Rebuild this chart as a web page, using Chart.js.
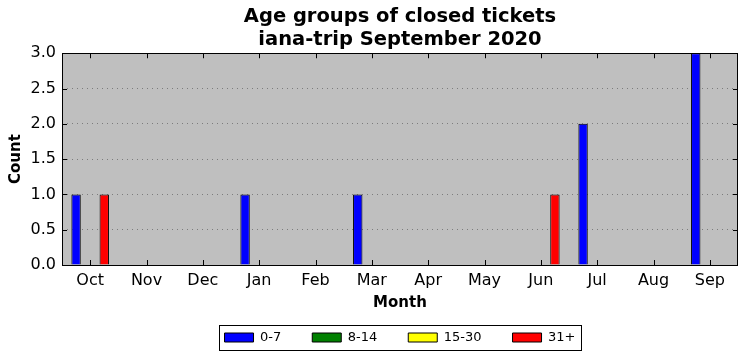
<!DOCTYPE html>
<html>
<head>
<meta charset="utf-8">
<script src="https://cdn.jsdelivr.net/npm/chart.js@4"></script>
<style>
  html, body { margin: 0; padding: 0; background: #fff; }
</style>
</head>
<body>
<canvas id="ageChart" width="747" height="361"></canvas>
<script>
const months = ["Oct", "Nov", "Dec", "Jan", "Feb", "Mar", "Apr", "May", "Jun", "Jul", "Aug", "Sep"];
const age0to7 = [1, 0, 0, 1, 0, 1, 0, 0, 0, 2, 0, 3];
const age8to14 = [0, 0, 0, 0, 0, 0, 0, 0, 0, 0, 0, 0];
const age15to30 = [0, 0, 0, 0, 0, 0, 0, 0, 0, 0, 0, 0];
const age31plus = [1, 0, 0, 0, 0, 0, 0, 0, 1, 0, 0, 0];
const countTicks = ["0.0", "0.5", "1.0", "1.5", "2.0", "2.5", "3.0"];

Chart.defaults.font.family = "'DejaVu Sans', sans-serif";
Chart.defaults.color = "#000";

// grey plot background, black frame, inside tick marks, framed legend
const plotFrame = {
  id: "plotFrame",
  beforeInit(chart) {
    const fit = chart.legend.fit;
    chart.legend.fit = function () {
      fit.call(this);
      this.height = 61;
    };
  },
  beforeDraw(chart) {
    const { ctx, chartArea: a } = chart;
    ctx.save();
    ctx.fillStyle = "#bfbfbf";
    ctx.fillRect(a.left, a.top, a.width, a.height);
    ctx.restore();
  },
  afterDraw(chart) {
    const { ctx, chartArea: a, scales } = chart;
    ctx.save();
    ctx.strokeStyle = "#000";
    ctx.lineWidth = 1;
    ctx.beginPath();
    scales.x.ticks.forEach((t, i) => {
      const x = Math.round(scales.x.getPixelForTick(i)) + 0.5;
      ctx.moveTo(x, a.bottom); ctx.lineTo(x, a.bottom - 5);
      ctx.moveTo(x, a.top); ctx.lineTo(x, a.top + 5);
    });
    scales.y.ticks.forEach((t, i) => {
      const y = Math.round(scales.y.getPixelForTick(i)) + 0.5;
      ctx.moveTo(a.left, y); ctx.lineTo(a.left + 5, y);
      ctx.moveTo(a.right, y); ctx.lineTo(a.right - 5, y);
    });
    ctx.stroke();
    ctx.strokeRect(Math.round(a.left) + 0.5, Math.round(a.top) + 0.5,
      Math.round(a.width) - 1, Math.round(a.height));

    const boxes = chart.legend.legendHitBoxes;
    if (boxes && boxes.length) {
      const l = boxes[0].left - 6;
      const r = boxes[boxes.length - 1].left + boxes[boxes.length - 1].width + 5;
      const t = boxes[0].top - 6;
      ctx.strokeRect(Math.round(l) + 0.5, Math.round(t) + 0.5, Math.round(r - l), 25);
    }
    ctx.restore();
  }
};

new Chart(document.getElementById("ageChart"), {
  type: "bar",
  data: {
    labels: months,
    datasets: [
      { label: "0-7", data: age0to7, backgroundColor: "#0000ff" },
      { label: "8-14", data: age8to14, backgroundColor: "#008000" },
      { label: "15-30", data: age15to30, backgroundColor: "#ffff00" },
      { label: "31+", data: age31plus, backgroundColor: "#ff0000" }
    ]
  },
  options: {
    responsive: false,
    animation: false,
    layout: { padding: { top: 0, left: 0, right: 9, bottom: 0 } },
    datasets: {
      bar: {
        borderColor: "#000",
        borderWidth: 1,
        categoryPercentage: 0.667,
        barPercentage: 1.0
      }
    },
    plugins: {
      title: {
        display: true,
        fullSize: false,
        text: ["Age groups of closed tickets", "iana-trip September 2020"],
        font: { size: 19.5, weight: "bold", lineHeight: 1.16 },
        color: "#000",
        padding: { top: 6, bottom: 2 }
      },
      legend: {
        position: "bottom",
        fullSize: false,
        labels: {
          boxWidth: 29,
          boxHeight: 9,
          padding: 31,
          font: { size: 13 },
          color: "#000"
        }
      },
      tooltip: { enabled: false }
    },
    scales: {
      x: {
        grid: { display: false, drawTicks: false },
        border: { display: false },
        ticks: { font: { size: 16 }, padding: 6, maxRotation: 0, autoSkip: false },
        title: {
          display: true,
          text: "Month",
          font: { size: 15, weight: "bold", lineHeight: 1.2 },
          padding: { top: 0, bottom: -12 }
        },
        afterFit(scale) { scale.height = 35; }
      },
      y: {
        min: 0,
        max: 3,
        grid: { color: "rgba(0,0,0,0.35)", lineWidth: 1, drawTicks: false },
        border: { display: false, dash: [1, 4] },
        ticks: {
          stepSize: 0.5,
          font: { size: 16 },
          padding: 6,
          callback: (v, i) => countTicks[i]
        },
        title: {
          display: true,
          text: "Count",
          font: { size: 15, weight: "bold", lineHeight: 1.2 },
          padding: { top: 7, bottom: 0 }
        },
        afterFit(scale) { scale.width = 62; }
      }
    }
  },
  plugins: [plotFrame]
});
</script>
</body>
</html>
